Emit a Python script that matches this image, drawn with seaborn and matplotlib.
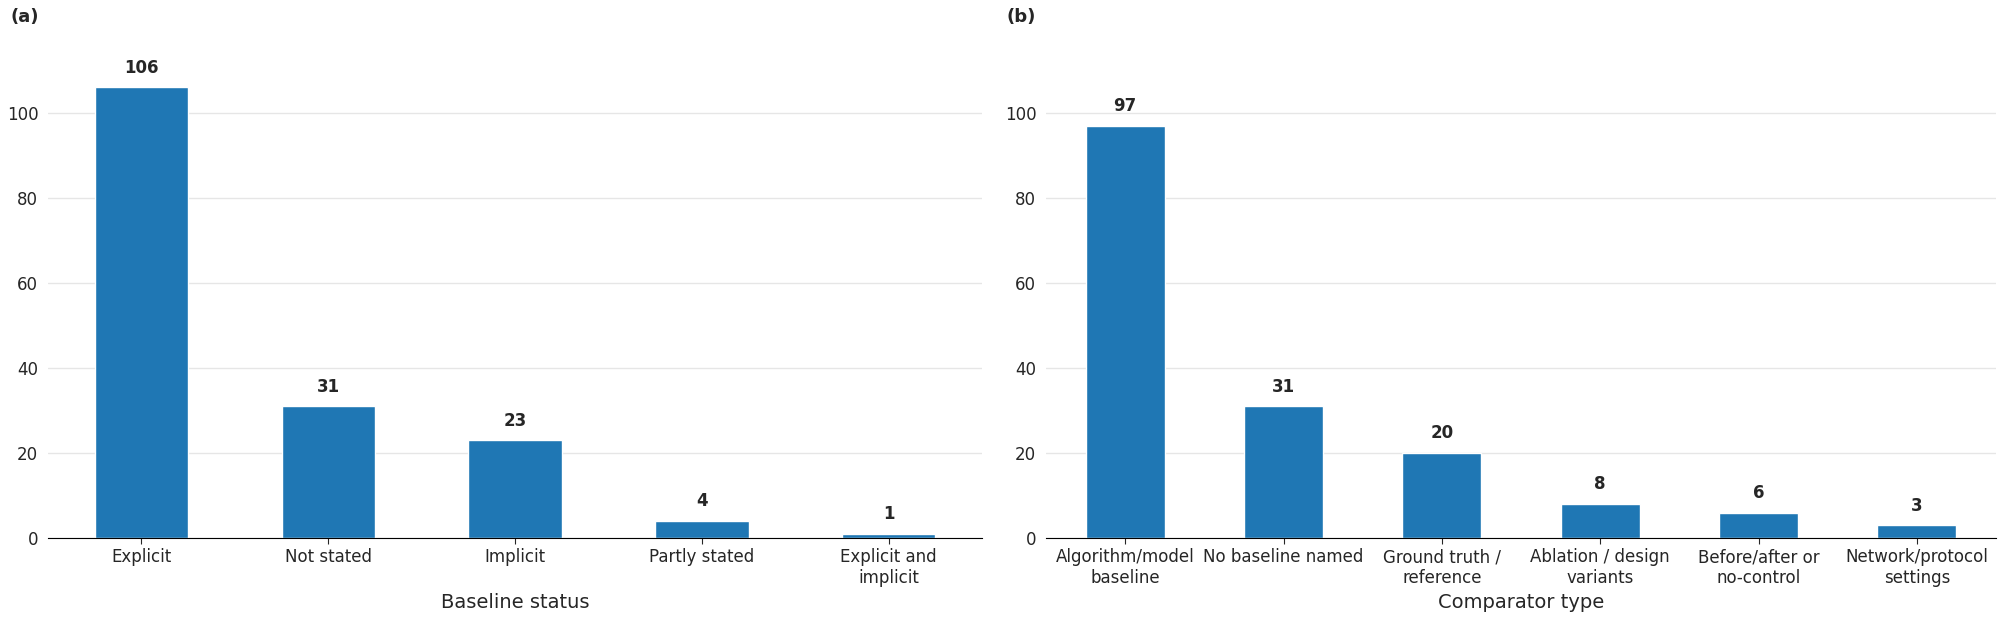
import pandas as pd
import matplotlib
matplotlib.use('Agg')
import matplotlib.pyplot as plt
import seaborn as sns

sns.set_style('white')
plt.rcParams['font.family'] = ['DejaVu Sans']

# Panel (a)
status_labels = ['Explicit', 'Not stated', 'Implicit', 'Partly stated', 'Explicit and\nimplicit']
status_counts = [106, 31, 23, 4, 1]

# Panel (b)
comp_labels = ['Algorithm/model\nbaseline', 'No baseline named', 'Ground truth /\nreference',
               'Ablation / design\nvariants', 'Before/after or\nno-control', 'Network/protocol\nsettings']
comp_counts = [97, 31, 20, 8, 6, 3]

fig, axes = plt.subplots(1, 2, figsize=(20, 6.22), dpi=100)
axes[0].set_position([0.024, 0.135, 0.467, 0.82])
axes[1].set_position([0.523, 0.135, 0.475, 0.82])

panels = [
    (axes[0], status_labels, status_counts, 'Baseline status', '(a)'),
    (axes[1], comp_labels, comp_counts, 'Comparator type', '(b)'),
]

for ax, labels, counts, xlabel, tag in panels:
    df = pd.DataFrame({'cat': labels, 'n': counts})
    sns.barplot(data=df, x='cat', y='n', color='#1f77b4', saturation=1, width=0.5, ax=ax)
    for i, v in enumerate(counts):
        ax.text(i, v + 2.5, str(v), ha='center', va='bottom', fontsize=12, fontweight='bold')
    ax.set_ylim(0, 120)
    ax.set_yticks([0, 20, 40, 60, 80, 100])
    ax.yaxis.grid(True, color='#e6e6e6', linewidth=1)
    ax.set_axisbelow(True)
    for s in ['top', 'right', 'left']:
        ax.spines[s].set_visible(False)
    ax.spines['bottom'].set_color('black')
    ax.tick_params(axis='x', bottom=True, length=4, labelsize=12)
    ax.tick_params(axis='y', left=False, labelsize=12)
    ax.set_xlabel(xlabel, fontsize=14)
    ax.set_ylabel('')

fig.text(0.005, 0.965, '(a)', fontsize=13, fontweight='bold')
fig.text(0.503, 0.965, '(b)', fontsize=13, fontweight='bold')
fig.savefig('out.png', dpi=100)
